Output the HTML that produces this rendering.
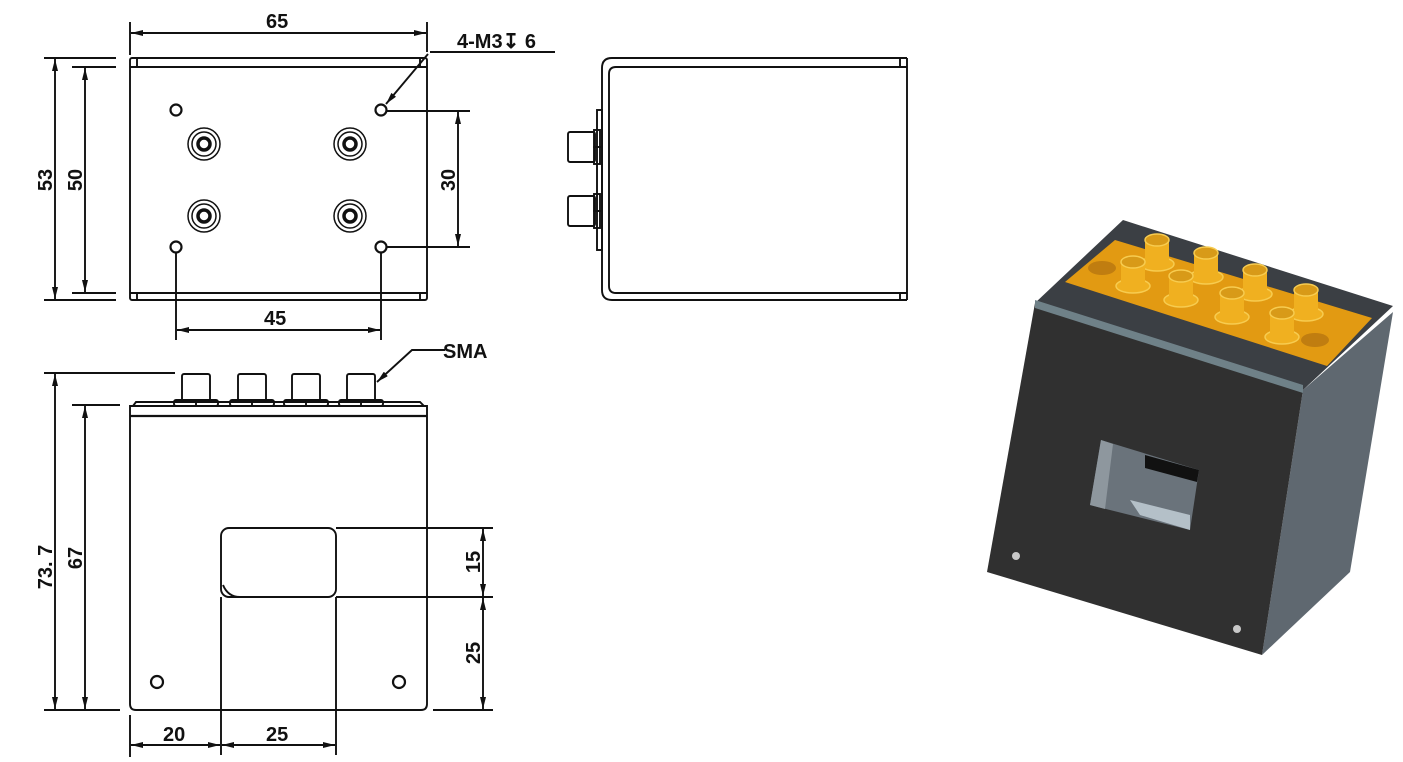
<!DOCTYPE html>
<html><head><meta charset="utf-8"><style>
html,body{margin:0;padding:0;background:#fff;}
svg{display:block;}
text{font-family:"Liberation Sans",sans-serif;font-weight:bold;font-size:20px;fill:#111;}
</style></head><body>
<svg width="1403" height="762" viewBox="0 0 1403 762" xmlns="http://www.w3.org/2000/svg">
<defs>
<marker id="a" viewBox="0 0 12 6" refX="12" refY="3" markerWidth="12" markerHeight="6" orient="auto-start-reverse" markerUnits="userSpaceOnUse"><path d="M0,0 L12,3 L0,6 z" fill="#111"/></marker>
</defs>
<g stroke="#111" stroke-width="1.9" fill="none">
<!-- TOP VIEW -->
<rect x="130" y="58" width="297" height="242" rx="2"/>
<line x1="130" y1="67" x2="427" y2="67"/>
<line x1="130" y1="293" x2="427" y2="293"/>
<line x1="137" y1="58" x2="137" y2="67"/><line x1="420" y1="58" x2="420" y2="67"/>
<line x1="137" y1="293" x2="137" y2="300"/><line x1="420" y1="293" x2="420" y2="300"/>
<circle cx="176" cy="110" r="5.5" stroke-width="2.2"/>
<circle cx="381" cy="110" r="5.5" stroke-width="2.2"/>
<circle cx="176" cy="247" r="5.5" stroke-width="2.2"/>
<circle cx="381" cy="247" r="5.5" stroke-width="2.2"/>
<g stroke-width="1.5">
<circle cx="204" cy="144" r="16"/><circle cx="204" cy="144" r="12"/><circle cx="204" cy="144" r="6" stroke-width="3.5"/>
<circle cx="350" cy="144" r="16"/><circle cx="350" cy="144" r="12"/><circle cx="350" cy="144" r="6" stroke-width="3.5"/>
<circle cx="204" cy="216" r="16"/><circle cx="204" cy="216" r="12"/><circle cx="204" cy="216" r="6" stroke-width="3.5"/>
<circle cx="350" cy="216" r="16"/><circle cx="350" cy="216" r="12"/><circle cx="350" cy="216" r="6" stroke-width="3.5"/>
</g>
<!-- dims top -->
<line x1="130" y1="22" x2="130" y2="55"/><line x1="427" y1="22" x2="427" y2="52"/>
<line x1="131" y1="33" x2="426" y2="33" marker-start="url(#a)" marker-end="url(#a)"/>
<line x1="44" y1="58" x2="116" y2="58"/><line x1="44" y1="300" x2="116" y2="300"/>
<line x1="72" y1="67" x2="116" y2="67"/><line x1="72" y1="293" x2="116" y2="293"/>
<line x1="55" y1="59" x2="55" y2="299" marker-start="url(#a)" marker-end="url(#a)"/>
<line x1="85" y1="68" x2="85" y2="292" marker-start="url(#a)" marker-end="url(#a)"/>
<line x1="387" y1="111" x2="470" y2="111"/><line x1="387" y1="247" x2="470" y2="247"/>
<line x1="458" y1="112" x2="458" y2="246" marker-start="url(#a)" marker-end="url(#a)"/>
<line x1="176" y1="253" x2="176" y2="340"/><line x1="381" y1="253" x2="381" y2="340"/>
<line x1="177" y1="330" x2="380" y2="330" marker-start="url(#a)" marker-end="url(#a)"/>
<line x1="430" y1="52" x2="555" y2="52"/>
<line x1="428" y1="54" x2="386" y2="104" marker-end="url(#a)"/>
<!-- SIDE VIEW -->
<path d="M907,58 H612 Q602,58 602,68 V290 Q602,300 612,300 H907"/>
<path d="M907,67 H616 Q609,67 609,74 V286 Q609,293 616,293 H907"/>
<line x1="907" y1="58" x2="907" y2="300"/>
<line x1="900" y1="58" x2="900" y2="67"/><line x1="900" y1="293" x2="900" y2="300"/>
<rect x="597" y="110" width="5" height="140"/>
<rect x="568" y="132" width="27" height="30" rx="2"/>
<rect x="594" y="130" width="6" height="17"/><rect x="594" y="147" width="6" height="17"/>
<rect x="568" y="196" width="27" height="30" rx="2"/>
<rect x="594" y="194" width="6" height="17"/><rect x="594" y="211" width="6" height="17"/>
<!-- FRONT VIEW -->
<path d="M130,406 H427 V704 Q427,710 421,710 H136 Q130,710 130,704 Z"/>
<line x1="130" y1="416" x2="427" y2="416" stroke-width="2.2"/>
<path d="M133,406 L136,402 H420 L424,406"/>
<g>
<rect x="182" y="374" width="28" height="27" rx="2"/><rect x="174" y="400" width="44" height="6" rx="2"/><line x1="196" y1="400" x2="196" y2="406"/>
<rect x="238" y="374" width="28" height="27" rx="2"/><rect x="230" y="400" width="44" height="6" rx="2"/><line x1="252" y1="400" x2="252" y2="406"/>
<rect x="292" y="374" width="28" height="27" rx="2"/><rect x="284" y="400" width="44" height="6" rx="2"/><line x1="306" y1="400" x2="306" y2="406"/>
<rect x="347" y="374" width="28" height="27" rx="2"/><rect x="339" y="400" width="44" height="6" rx="2"/><line x1="361" y1="400" x2="361" y2="406"/>
</g>
<rect x="221" y="528" width="115" height="69" rx="8"/>
<path d="M223,585 Q228,597 240,597" />
<circle cx="157" cy="682" r="6" stroke-width="2.2"/>
<circle cx="399" cy="682" r="6" stroke-width="2.2"/>
<line x1="44" y1="373" x2="175" y2="373"/>
<line x1="44" y1="710" x2="120" y2="710"/>
<line x1="72" y1="405" x2="120" y2="405"/>
<line x1="55" y1="374" x2="55" y2="709" marker-start="url(#a)" marker-end="url(#a)"/>
<line x1="85" y1="406" x2="85" y2="709" marker-start="url(#a)" marker-end="url(#a)"/>
<line x1="221" y1="597" x2="221" y2="755"/><line x1="336" y1="597" x2="336" y2="755"/>
<line x1="130" y1="715" x2="130" y2="757"/>
<line x1="336" y1="528" x2="493" y2="528"/><line x1="336" y1="597" x2="493" y2="597"/>
<line x1="433" y1="710" x2="493" y2="710"/>
<line x1="483" y1="529" x2="483" y2="596" marker-start="url(#a)" marker-end="url(#a)"/>
<line x1="483" y1="598" x2="483" y2="709" marker-start="url(#a)" marker-end="url(#a)"/>
<line x1="131" y1="745" x2="220" y2="745" marker-start="url(#a)" marker-end="url(#a)"/>
<line x1="222" y1="745" x2="335" y2="745" marker-start="url(#a)" marker-end="url(#a)"/>
<polyline points="445,350 412,350 377,382" marker-end="url(#a)"/>
</g>
<!-- labels -->
<text x="266" y="28">65</text>
<text x="457" y="48" font-size="18">4-M3&#8615; 6</text>
<text x="264" y="325">45</text>
<text x="443" y="358" font-size="17">SMA</text>
<text transform="translate(52,180) rotate(-90)" text-anchor="middle">53</text>
<text transform="translate(82,180) rotate(-90)" text-anchor="middle">50</text>
<text transform="translate(455,180) rotate(-90)" text-anchor="middle">30</text>
<text transform="translate(52,567) rotate(-90)" text-anchor="middle">73. 7</text>
<text transform="translate(82,558) rotate(-90)" text-anchor="middle">67</text>
<text transform="translate(480,562) rotate(-90)" text-anchor="middle">15</text>
<text transform="translate(480,653) rotate(-90)" text-anchor="middle">25</text>
<text x="163" y="741">20</text>
<text x="266" y="741">25</text>
<!-- 3D -->
<g>
<polygon points="1303,390 1393,312 1350,572 1262,655" fill="#5f6870"/>
<polygon points="1035,303 1303,390 1262,655 987,572" fill="#303030"/>
<polygon points="1035,303 1123,220 1393,306 1303,390" fill="#3b3f44"/>
<polygon points="1035,300 1303,385 1303,393 1035,308" fill="#6f8188"/>
<polygon points="1065,282 1115,240 1372,318 1327,366" fill="#e29a12"/>
<ellipse cx="1102" cy="268" rx="14" ry="7" fill="#c07d10"/>
<ellipse cx="1315" cy="340" rx="14" ry="7" fill="#c07d10"/>
<g fill="#f0b020" stroke="#f7cc50" stroke-width="1.5">
<g transform="translate(1157,240)"><ellipse cx="0" cy="24" rx="17" ry="7"/><rect x="-12" y="0" width="24" height="24" stroke="none"/><ellipse cx="0" cy="0" rx="12" ry="6" fill="#d89a18"/></g>
<g transform="translate(1133,262)"><ellipse cx="0" cy="24" rx="17" ry="7"/><rect x="-12" y="0" width="24" height="24" stroke="none"/><ellipse cx="0" cy="0" rx="12" ry="6" fill="#d89a18"/></g>
<g transform="translate(1206,253)"><ellipse cx="0" cy="24" rx="17" ry="7"/><rect x="-12" y="0" width="24" height="24" stroke="none"/><ellipse cx="0" cy="0" rx="12" ry="6" fill="#d89a18"/></g>
<g transform="translate(1181,276)"><ellipse cx="0" cy="24" rx="17" ry="7"/><rect x="-12" y="0" width="24" height="24" stroke="none"/><ellipse cx="0" cy="0" rx="12" ry="6" fill="#d89a18"/></g>
<g transform="translate(1255,270)"><ellipse cx="0" cy="24" rx="17" ry="7"/><rect x="-12" y="0" width="24" height="24" stroke="none"/><ellipse cx="0" cy="0" rx="12" ry="6" fill="#d89a18"/></g>
<g transform="translate(1232,293)"><ellipse cx="0" cy="24" rx="17" ry="7"/><rect x="-12" y="0" width="24" height="24" stroke="none"/><ellipse cx="0" cy="0" rx="12" ry="6" fill="#d89a18"/></g>
<g transform="translate(1306,290)"><ellipse cx="0" cy="24" rx="17" ry="7"/><rect x="-12" y="0" width="24" height="24" stroke="none"/><ellipse cx="0" cy="0" rx="12" ry="6" fill="#d89a18"/></g>
<g transform="translate(1282,313)"><ellipse cx="0" cy="24" rx="17" ry="7"/><rect x="-12" y="0" width="24" height="24" stroke="none"/><ellipse cx="0" cy="0" rx="12" ry="6" fill="#d89a18"/></g>
</g>
<polygon points="1101,440 1199,470 1190,530 1090,505" fill="#6a737b"/>
<polygon points="1101,440 1113,444 1105,509 1090,505" fill="#8e979e"/>
<polygon points="1145,455 1199,470 1197,482 1145,468" fill="#111"/>
<polygon points="1130,500 1190,515 1190,530 1140,515" fill="#b4c0c8"/>
<circle cx="1016" cy="556" r="4" fill="#c8c8c8"/>
<circle cx="1237" cy="629" r="4" fill="#c8c8c8"/>
</g>
</svg>
</body></html>
